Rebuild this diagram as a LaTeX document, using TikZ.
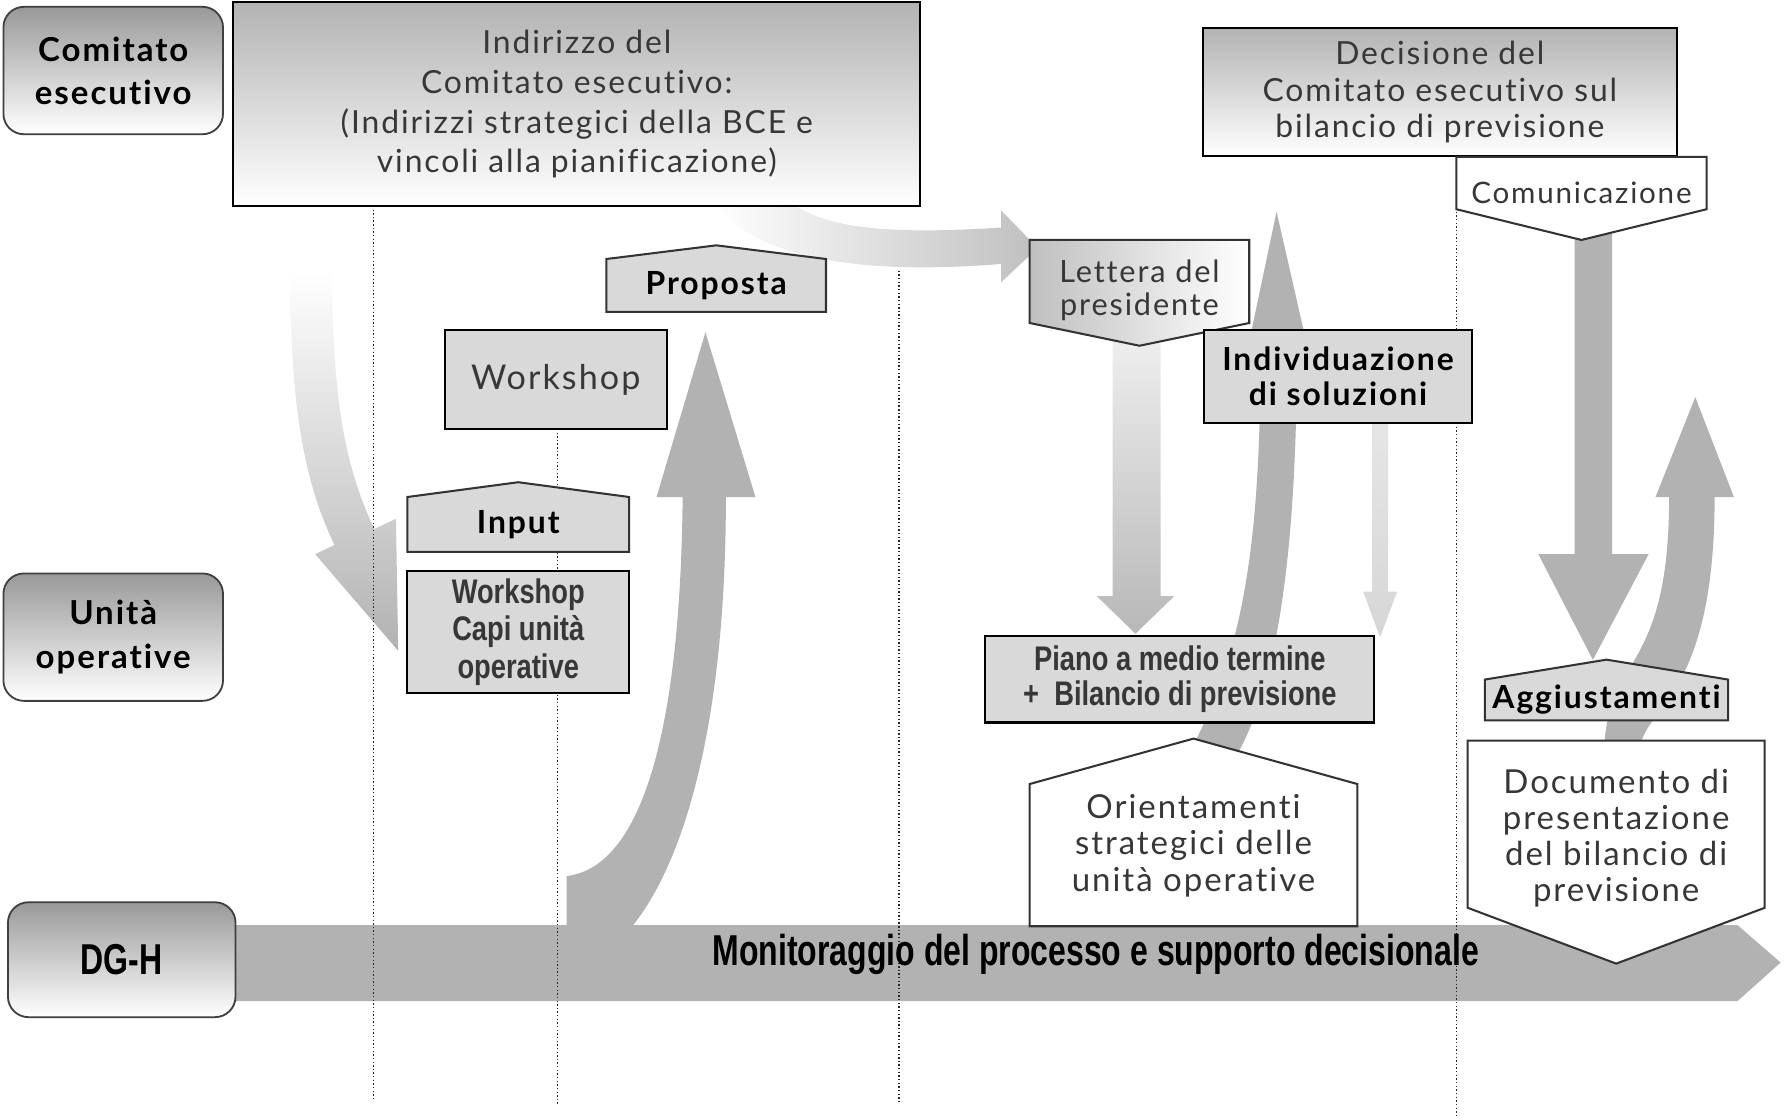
\documentclass[tikz,border=0pt]{standalone}
\usepackage{fontspec}
\setmainfont{Lato}[LetterSpace=6, Ligatures=NoCommon]
\newfontfamily\narrowfont[FakeStretch=0.74]{Liberation Sans}
\newfontfamily\condfont[FakeStretch=0.8]{Liberation Sans}
\definecolor{boxgray}{RGB}{217, 217, 217}
\definecolor{flowgray}{RGB}{178, 178, 178}
\definecolor{textgray}{RGB}{55, 55, 55}
\usetikzlibrary{shapes.symbols}
\tikzset{
	lane/.style={rectangle, rounded corners=9pt, draw=black!75, line width=0.8pt, top color=black!40, bottom color=white, align=center, minimum width=96.5pt, minimum height=56pt, font=\fontsize{14.5}{19}\selectfont\bfseries},
	headbox/.style={rectangle, draw=black, line width=0.9pt, top color=black!30, bottom color=white, align=center, text=textgray, font=\fontsize{14}{17.5}\selectfont},
	stepbox/.style={rectangle, draw=black, line width=0.9pt, fill=boxgray, align=center, text=textgray, font=\fontsize{15}{18}\selectfont},
	narrowbox/.style={rectangle, draw=black, line width=0.9pt, fill=boxgray, align=center, text=textgray, font=\condfont\bfseries\fontsize{15}{16}\selectfont},
	uptag/.style={signal, signal to=north, draw=black!80, line width=0.9pt, fill=boxgray, align=center, anchor=south, font=\fontsize{14}{17}\selectfont\bfseries},
	downtag/.style={signal, signal to=south, draw=black!80, line width=0.9pt, fill=white, anchor=north, minimum height=0pt},
	tagtext/.style={align=center, text=textgray, font=\fontsize{13}{15}\selectfont},
	flow/.style={fill=flowgray},
	guide/.style={densely dotted, line width=0.6pt, draw=black!85},
}

\begin{document}
\begin{tikzpicture}[x=0.5pt, y=-0.5pt]
	\useasboundingbox (0,0) rectangle (1568,984);
	% DG-H band and the block arrows
	\fill[flow] (207,813) -- (1527,813) -- (1565,846) -- (1527,880) -- (207,880) -- cycle;
	\shade[top color=white, bottom color=flowgray] (255,238) .. controls (255,360) and (268,425) .. (294,479) -- (277,487) -- (350,572) -- (348,456) -- (329,465) .. controls (303,410) and (292,350) .. (292,238) -- cycle;
	\fill[flow] (498,815) -- (498,770) .. controls (565,762) and (598,640) .. (600,437) -- (577,437) -- (620,292) -- (664,437) -- (638,437) .. controls (638,640) and (600,760) .. (555,815) -- cycle;
	\shade[left color=white, right color=black!25] (626,175) .. controls (665,235) and (780,240) .. (880,232) -- (880,248) -- (912,218) -- (880,185) -- (880,200) .. controls (800,205) and (725,205) .. (692,175) -- cycle;
	\shade[top color=black!6, bottom color=black!28] (978,290) -- (978,524) -- (964,524) -- (998,557) -- (1032,524) -- (1020,524) -- (1020,290) -- cycle;
	\fill[flow] (1045,662) .. controls (1095,570) and (1108,470) .. (1108,300) -- (1098,300) -- (1122,186) -- (1148,300) -- (1140,300) .. controls (1140,490) and (1122,600) .. (1088,662) -- cycle;
	\shade[top color=black!10, bottom color=black!16] (1206,372) -- (1206,520) -- (1198,520) -- (1213,560) -- (1228,520) -- (1220,520) -- (1220,372) -- cycle;
	\fill[flow] (1384,205) -- (1384,487) -- (1352,487) -- (1400,580) -- (1449,487) -- (1417,487) -- (1417,205) -- cycle;
	\fill[flow] (1410,655) .. controls (1415,575) and (1467,590) .. (1467,437) -- (1455,437) -- (1490,349) -- (1524,437) -- (1507,437) .. controls (1507,610) and (1448,620) .. (1442,655) -- cycle;
	% phase separators
	\foreach \px/\ya/\yb in {328/181/968, 490/377/970, 790/238/970, 1280/183/980}
		\draw[guide] (\px,\ya) -- (\px,\yb);
	% lanes
	\node[lane] (ce) at (99.5,62) {Comitato\\esecutivo};
	\node[lane] (uo) at (99.5,560) {Unità\\operative};
	\node[lane, minimum width=100pt, minimum height=50.5pt, font=\narrowfont\bfseries\fontsize{19}{20}\selectfont] (dgh) at (107,843.5) {DG-H};
	\node[font=\narrowfont\bfseries\fontsize{19}{20}\selectfont] (mon) at (963,839) {Monitoraggio del processo e supporto decisionale};
	% Comitato esecutivo
	\node[headbox, minimum width=302pt, minimum height=89.5pt] (indir) at (507,91.5) {Indirizzo del\\Comitato esecutivo:\\(Indirizzi strategici della BCE e\\vincoli alla pianificazione)};
	\node[headbox, minimum width=208.5pt, minimum height=56pt, font=\fontsize{14}{16}\selectfont] (decis) at (1265.5,81) {Decisione del\\Comitato esecutivo sul\\bilancio di previsione};
	\node[downtag, signal pointer angle=152.4, minimum width=110pt, inner ysep=11.5pt, label={[tagtext, yshift=-4.5pt]center:Comunicazione}] (comun) at (1390,137) {};
	% first phase
	\node[stepbox, minimum width=97.5pt, minimum height=43.5pt] (ws) at (488.5,333.5) {Workshop};
	\node[uptag, signal pointer angle=165.8, minimum width=96.5pt, minimum height=27.5pt] (prop) at (629.5,275) {Proposta};
	\node[uptag, signal pointer angle=164.8, minimum width=97.5pt, minimum height=27pt] (inp) at (455.5,486) {Input};
	\node[narrowbox, minimum width=97.5pt, minimum height=52.5pt, font=\condfont\bfseries\fontsize{15}{16.5}\selectfont] (capi) at (455.5,555.5) {Workshop\\Capi unità\\operative};
	% second phase
	\node[downtag, signal pointer angle=156.6, minimum width=96.5pt, inner ysep=18.25pt, left color=black!25, right color=white, label={[tagtext, yshift=-4pt, font=\fontsize{13.5}{14.5}\selectfont]center:{Lettera del\\presidente}}] (lett) at (1001.5,210) {};
	\node[stepbox, minimum width=118pt, minimum height=41pt, text=black, font=\fontsize{14}{15.5}\selectfont\bfseries] (indiv) at (1176,331) {Individuazione\\di soluzioni};
	\node[narrowbox, minimum width=171pt, minimum height=38pt, font=\condfont\bfseries\fontsize{15}{15.5}\selectfont] (piano) at (1037,597) {Piano a medio termine\\+\ \ Bilancio di previsione};
	\node[uptag, signal pointer angle=149, minimum width=144pt, minimum height=0pt, inner ysep=31.25pt, fill=white, label={[tagtext, yshift=4.25pt, font=\fontsize{14.5}{16}\selectfont]center:{Orientamenti\\strategici delle\\unità operative}}] (orient) at (1049,815) {};
	% third phase
	\node[uptag, signal pointer angle=161.4, minimum width=104pt, minimum height=26pt, inner ysep=2.5pt] (aggiu) at (1412,634) {Aggiustamenti};
	\node[downtag, signal pointer angle=138.8, minimum width=130.5pt, inner ysep=36.75pt, label={[tagtext, yshift=-6pt, font=\fontsize{14.5}{15.8}\selectfont]center:{Documento di\\presentazione\\del bilancio di\\previsione}}] (docum) at (1420.5,650) {};
\end{tikzpicture}
\end{document}
